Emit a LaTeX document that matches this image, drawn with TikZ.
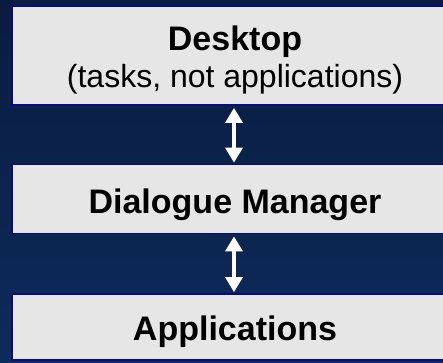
\documentclass[tikz,border=0pt]{standalone}
\usepackage{fontspec}
\setmainfont{Liberation Sans}
\usetikzlibrary{arrows.meta}
\definecolor{bgtop}{HTML}{0A1B3F}
\definecolor{bgbot}{HTML}{0D2B5B}
\definecolor{boxfill}{HTML}{E6E6E6}
\definecolor{boxline}{HTML}{0A0A82}
\tikzset{
  layer/.style={draw=boxline, line width=1.8pt, fill=boxfill, inner sep=0pt},
  bigtxt/.style={font=\fontsize{34}{40}\selectfont\bfseries, anchor=base, inner sep=0pt, text=black},
  smalltxt/.style={font=\fontsize{32}{38}\selectfont, anchor=base, inner sep=0pt, text=black},
  link/.style={white, line width=3.5pt, shorten <=2pt, shorten >=1pt,
    {Triangle[width=17pt,length=15pt]}-{Triangle[width=17pt,length=15pt]}}
}
\begin{document}
\begin{tikzpicture}[x=1pt,y=-1pt]
\useasboundingbox (0,0) rectangle (443,362);
\clip (0,0) rectangle (443,362);
\shade[top color=bgtop, bottom color=bgbot] (0,0) rectangle (443,362);
\node[layer, minimum width=440pt, minimum height=99pt] (desk) at (232,55.5) {};
\node[layer, minimum width=440pt, minimum height=69pt] (dm) at (232,199) {};
\node[layer, minimum width=440pt, minimum height=66pt] (apps) at (232,327) {};
\node[bigtxt] (t1) at (235,50) {Desktop};
\node[smalltxt] (t2) at (235,87) {(tasks, not applications)};
\node[bigtxt] (t3) at (235,213) {Dialogue Manager};
\node[bigtxt] (t4) at (235,340) {Applications};
\coordinate (a1) at (234,0);
\draw[link] (desk.south -| a1) -- (dm.north -| a1);
\draw[link] (dm.south -| a1) -- (apps.north -| a1);
\end{tikzpicture}
\end{document}
